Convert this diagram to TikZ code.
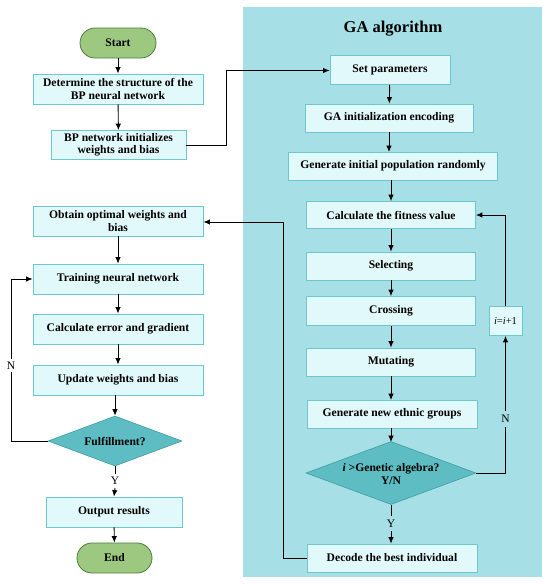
\documentclass[tikz,border=0pt]{standalone}
\usepackage{fontspec}
\setmainfont{Liberation Serif}
\usetikzlibrary{arrows.meta,shapes.geometric}
\definecolor{boxfill}{HTML}{E2F9FB}
\definecolor{boxline}{HTML}{6CC7CF}
\definecolor{panel}{HTML}{A6DFE5}
\definecolor{dfill}{HTML}{5DBDC2}
\definecolor{dline}{HTML}{3E9EA4}
\definecolor{gfill}{HTML}{9CC880}
\definecolor{gline}{HTML}{4E7D3A}
\tikzset{
  procbox/.style={draw=boxline, line width=0.8pt, fill=boxfill, minimum height=#1, inner sep=1pt,
    font=\fontsize{11.6}{12.5}\selectfont\bfseries, align=center},
  procbox/.default=28pt,
  termbox/.style={draw=gline, line width=0.8pt, fill=gfill, rounded corners=15pt,
    minimum width=76pt, minimum height=30pt, font=\fontsize{11.6}{12.5}\selectfont\bfseries},
  decbox/.style={diamond, aspect=#1, draw=dline, line width=0.6pt, fill=dfill, inner sep=0pt,
    font=\fontsize{11.6}{12.5}\selectfont\bfseries, align=center},
  conn/.style={line width=0.9pt, -{Latex[length=6.5pt,width=5.5pt]}},
  plain/.style={line width=0.9pt},
  lab/.style={font=\fontsize{11.5}{12}\selectfont, inner sep=1pt},
}
\begin{document}
\begin{tikzpicture}[x=1pt,y=-1pt]
\useasboundingbox (0,0) rectangle (550,584);
\fill[white] (0,0) rectangle (550,584);
% GA panel
\fill[panel] (243,7) rectangle (542,577);
\node[font=\fontsize{16.5}{18}\selectfont\bfseries] (title) at (393,29) {GA algorithm};

% left column
\node[termbox] (start) at (118,43) {Start};
\node[procbox=30pt, minimum width=170pt] (struct) at (118,89) {Determine the structure of the\\BP neural network};
\node[procbox=29pt, minimum width=135pt] (init) at (118.5,145) {BP network initializes\\weights and bias};
\node[procbox=30pt, minimum width=170pt] (obtain) at (118,221) {Obtain optimal weights and\\bias};
\node[procbox=30pt, minimum width=170pt] (train) at (118,279) {Training neural network};
\node[procbox=30pt, minimum width=170pt] (calc) at (118,329) {Calculate error and gradient};
\node[procbox=30pt, minimum width=170pt] (update) at (118,380) {Update weights and bias};
\node[decbox=2.68, minimum width=134pt, minimum height=50pt] (fulf) at (115,441) {Fulfillment?};
\node[procbox=30pt, minimum width=136pt] (output) at (114,512) {Output results};
\node[termbox, minimum width=75pt] (end) at (114.5,558) {End};

% right column
\node[procbox=29pt, minimum width=120pt] (setp) at (390,70) {Set parameters};
\node[procbox=28pt, minimum width=168pt] (gaenc) at (389,118) {GA initialization encoding};
\node[procbox=28pt, minimum width=209pt] (genpop) at (393,166) {Generate initial population randomly};
\node[procbox=27pt, minimum width=169pt] (fit) at (391,215) {Calculate the fitness value};
\node[procbox=28pt, minimum width=169pt] (sel) at (391,266) {Selecting};
\node[procbox=29pt, minimum width=169pt] (cross) at (391,311) {Crossing};
\node[procbox=28pt, minimum width=169pt] (mut) at (391,362) {Mutating};
\node[procbox=28pt, minimum width=170pt] (genew) at (392,414) {Generate new ethnic groups};
\node[decbox=2.7, minimum width=170pt, minimum height=63pt] (gadec) at (391,473) {\strut};
\node[font=\fontsize{11.6}{13}\selectfont\bfseries, align=center] (gatext) at (391,474.5) {\textit{i} >Genetic algebra?\\Y/N};
\node[procbox=28pt, minimum width=170pt] (decode) at (392,558) {Decode the best individual};
\node[draw=boxline, line width=0.8pt, fill=boxfill, minimum width=33pt, minimum height=29pt, inner sep=1pt,
  font=\fontsize{10.5}{12}\selectfont] (inc) at (505.5,321) {\textit{i}=\textit{i}+1};

% connectors left
\draw[conn] (start) -- (struct);
\draw[conn] (struct) -- (init);
\draw[conn] (obtain) -- (train);
\draw[conn] (train) -- (calc);
\draw[conn] (calc) -- (update);
\draw[conn] (update.south -| fulf) -- (fulf);
\draw[plain] (fulf.south) -- (115,474);
\node[lab] (ylab1) at (115,481) {Y};
\draw[conn] (115,488) -- (output.north);
\draw[conn] (output) -- (end);
\coordinate (nl) at (11,441);
\draw[plain] (fulf.west) -- (nl) -- (11,372);
\node[lab] (nlab1) at (11,366) {N};
\draw[conn] (11,359) -- (11,279) -- (train.west);

% init -> set parameters
\coordinate (c1) at (226,145);
\draw[conn] (init.east) -- (c1) -- (226,70.5) -- (setp.west |- 0,70.5);

% connectors right
\draw[conn] (setp) -- (gaenc);
\draw[conn] (gaenc.south -| 389,0) -- (389,152);
\draw[conn] (genpop.south -| 391,0) -- (fit.north -| 391,0);
\draw[conn] (fit) -- (sel);
\draw[conn] (sel) -- (cross);
\draw[conn] (cross) -- (mut);
\draw[conn] (mut) -- (391,400);
\draw[conn] (391,428) -- (391,442);
\draw[plain] (391,505) -- (391,516);
\node[lab] (ylab2) at (391,524) {Y};
\draw[conn] (391,531) -- (decode.north -| 391,0);

% loop right
\draw[plain] (gadec.east) -- (505.5,473) -- (505.5,427);
\node[lab] (nlab2) at (505.5,419) {N};
\draw[conn] (505.5,411) -- (inc.south);
\draw[conn] (inc.north) -- (505.5,215) -- (fit.east);

% decode -> obtain
\draw[conn] (decode.west) -- (283,558) -- (283,222) -- (obtain.east |- 0,222);
\end{tikzpicture}
\end{document}
